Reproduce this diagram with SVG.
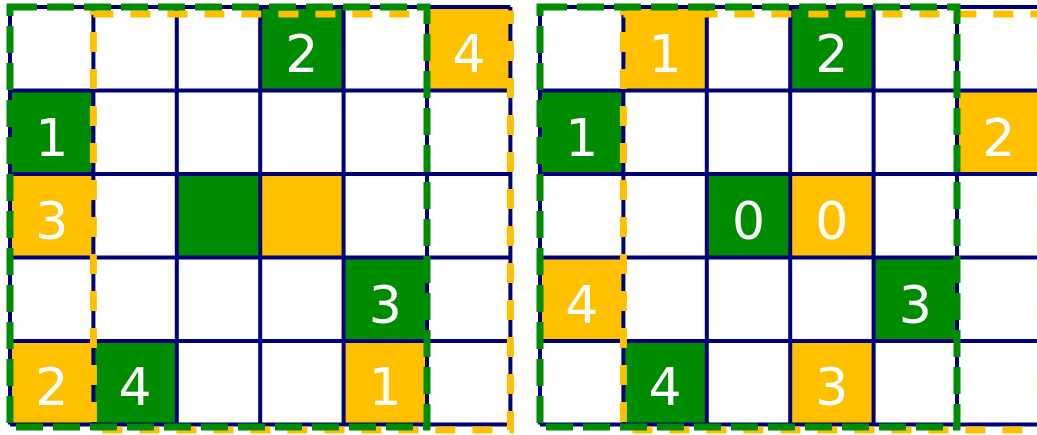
<svg xmlns="http://www.w3.org/2000/svg" width="1037" height="435" viewBox="0 0 1037 435">
<style>
.g{fill:#008C00}
.y{fill:#FFC000}
.grid{fill:none;stroke:#00007A;stroke-width:4}
.gd{fill:none;stroke:#008C00;stroke-width:7;stroke-dasharray:27 10}
.yd{fill:none;stroke:#FFC000;stroke-width:7;stroke-dasharray:20 17}
text{font-family:"DejaVu Sans",Verdana,sans-serif;font-size:52px;fill:#fff;text-anchor:middle}
</style>
<rect width="1037" height="435" fill="#fff"/>
<!-- Left grid: origin x=10, w=83.4, top=7, h=83.5 -->
<g id="left-grid">
<g id="L-r0c3"><rect class="g" x="260.2" y="7" width="83.4" height="83.5"/><text x="301.9" y="72">2</text></g>
<g id="L-r0c5"><rect class="y" x="427" y="7" width="83.4" height="83.5"/><text x="468.7" y="72">4</text></g>
<g id="L-r1c0"><rect class="g" x="10" y="90.5" width="83.4" height="83.5"/><text x="51.7" y="155.5">1</text></g>
<g id="L-r2c0"><rect class="y" x="10" y="174" width="83.4" height="83.5"/><text x="51.7" y="239">3</text></g>
<g id="L-r2c2"><rect class="g" x="176.8" y="174" width="83.4" height="83.5"/></g>
<g id="L-r2c3"><rect class="y" x="260.2" y="174" width="83.4" height="83.5"/></g>
<g id="L-r3c4"><rect class="g" x="343.6" y="257.5" width="83.4" height="83.5"/><text x="385.3" y="322.5">3</text></g>
<g id="L-r4c0"><rect class="y" x="10" y="341" width="83.4" height="83.5"/><text x="51.7" y="405">2</text></g>
<g id="L-r4c1"><rect class="g" x="93.4" y="341" width="83.4" height="83.5"/><text x="135.1" y="405">4</text></g>
<g id="L-r4c4"><rect class="y" x="343.6" y="341" width="83.4" height="83.5"/><text x="385.3" y="405">1</text></g>
<path class="grid" d="M10 7V424.5M93.4 7V424.5M176.8 7V424.5M260.2 7V424.5M343.6 7V424.5M427 7V424.5M510.4 7V424.5M10 7H510.4M10 90.5H510.4M10 174H510.4M10 257.5H510.4M10 341H510.4M10 424.5H510.4"/>
<rect id="L-yellow-region" class="yd" x="93.4" y="14" width="417" height="416"/>
<rect id="L-green-region" class="gd" x="10" y="7" width="417" height="420"/>
</g>
<!-- Right grid: origin x=540 -->
<g id="right-grid">
<g id="R-r0c1"><rect class="y" x="623.4" y="7" width="83.4" height="83.5"/><text x="665.1" y="72">1</text></g>
<g id="R-r0c3"><rect class="g" x="790.2" y="7" width="83.4" height="83.5"/><text x="831.9" y="72">2</text></g>
<g id="R-r1c0"><rect class="g" x="540" y="90.5" width="83.4" height="83.5"/><text x="581.7" y="155.5">1</text></g>
<g id="R-r1c5"><rect class="y" x="957" y="90.5" width="83.4" height="83.5"/><text x="998.7" y="155.5">2</text></g>
<g id="R-r2c2"><rect class="g" x="706.8" y="174" width="83.4" height="83.5"/><text x="748.5" y="239">0</text></g>
<g id="R-r2c3"><rect class="y" x="790.2" y="174" width="83.4" height="83.5"/><text x="831.9" y="239">0</text></g>
<g id="R-r3c0"><rect class="y" x="540" y="257.5" width="83.4" height="83.5"/><text x="581.7" y="322.5">4</text></g>
<g id="R-r3c4"><rect class="g" x="873.6" y="257.5" width="83.4" height="83.5"/><text x="915.3" y="322.5">3</text></g>
<g id="R-r4c1"><rect class="g" x="623.4" y="341" width="83.4" height="83.5"/><text x="665.1" y="405">4</text></g>
<g id="R-r4c3"><rect class="y" x="790.2" y="341" width="83.4" height="83.5"/><text x="831.9" y="405">3</text></g>
<path class="grid" d="M540 7V424.5M623.4 7V424.5M706.8 7V424.5M790.2 7V424.5M873.6 7V424.5M957 7V424.5M1040.4 7V424.5M540 7H1040.4M540 90.5H1040.4M540 174H1040.4M540 257.5H1040.4M540 341H1040.4M540 424.5H1040.4"/>
<rect id="R-yellow-region" class="yd" x="623.4" y="14" width="417" height="416"/>
<rect id="R-green-region" class="gd" x="540" y="7" width="417" height="420"/>
</g>
</svg>
